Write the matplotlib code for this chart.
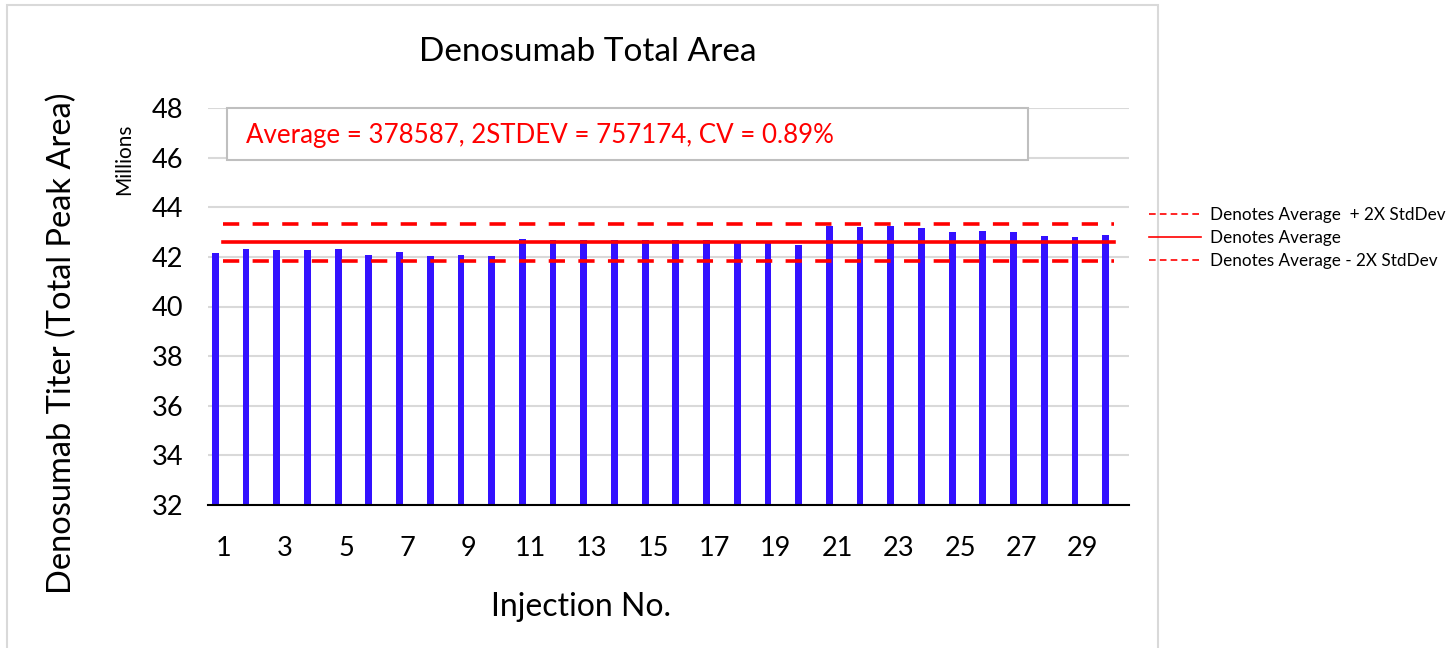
import numpy as np
import matplotlib
matplotlib.use('Agg')
import matplotlib.pyplot as plt
from matplotlib.patches import Rectangle

plt.rcParams['font.family'] = ['Lato', 'DejaVu Sans']

# data (millions)
injections = list(range(1, 31))
peak_area = [42.17, 42.30, 42.26, 42.27, 42.30, 42.06, 42.18, 42.02, 42.07, 42.05,
             42.72, 42.66, 42.66, 42.66, 42.66, 42.66, 42.66, 42.58, 42.65, 42.48,
             43.23, 43.20, 43.23, 43.15, 43.01, 43.05, 43.00, 42.83, 42.80, 42.88]
avg_line = 42.58
upper_line = 43.34
lower_line = 41.83
x_ticks = list(range(1, 30, 2))
y_ticks = list(range(32, 49, 2))
stats_text = 'Average = 378587, 2STDEV = 757174, CV = 0.89%'

W, H = 1446, 648
fig = plt.figure(figsize=(W / 100, H / 100), dpi=100)


def fx(px):
    return px / W


def fy(py):
    return 1 - py / H


# outer chart border
fig.patches.append(Rectangle((fx(7), fy(660)), fx(1158) - fx(7), fy(5) - fy(660),
                             transform=fig.transFigure, fill=False,
                             edgecolor='#d9d9d9', lw=1.5))

ax = fig.add_axes([fx(208), fy(505), fx(1129) - fx(208), fy(108) - fy(505)])

x = np.array(injections)
ax.bar(x - 0.26, peak_area, width=0.22, color='#3311ff', zorder=3)

up, = ax.plot(x, [upper_line] * len(x), color='#ff0000', lw=2.6, ls=(0, (4.5, 3.7)), zorder=4)
av, = ax.plot(x, [avg_line] * len(x), color='#ff0000', lw=2.6, zorder=4)
lo, = ax.plot(x, [lower_line] * len(x), color='#ff0000', lw=2.6, ls=(0, (4.5, 3.7)), zorder=4)

ax.set_xlim(0.5, 30.5)
ax.set_ylim(32, 48)
ax.set_xticks(x_ticks)
ax.set_yticks(y_ticks)
ax.tick_params(axis='both', length=0, labelsize=19.5)
ax.tick_params(axis='x', pad=22)
ax.tick_params(axis='y', pad=18)
ax.grid(axis='y', color='#d9d9d9', lw=1.5, zorder=0)
for s in ['left', 'right', 'top']:
    ax.spines[s].set_visible(False)
ax.spines['bottom'].set_color('#000000')
ax.spines['bottom'].set_linewidth(1.5)
ax.spines['bottom'].set_zorder(5)

fig.text(fx(588), fy(52), 'Denosumab Total Area', ha='center', va='center', fontsize=24)
fig.text(fx(581), fy(607), 'Injection No.', ha='center', va='center', fontsize=23)
fig.text(fx(62), fy(343), 'Denosumab Titer (Total Peak Area)', ha='center', va='center',
         rotation=90, fontsize=23.5)
fig.text(fx(124), fy(159), 'Millions', ha='center', va='center', rotation=90, fontsize=15)

# stats box
fig.patches.append(Rectangle((fx(227), fy(160)), fx(1028) - fx(227), fy(108) - fy(160),
                             transform=fig.transFigure, facecolor='white',
                             edgecolor='#bfbfbf', lw=1.5, zorder=5))
fig.text(fx(246), fy(135), stats_text, ha='left', va='center', color='#ff0000',
         fontsize=18.6, zorder=6)

leg = fig.legend([up, av, lo],
                 ['Denotes Average  + 2X StdDev', 'Denotes Average', 'Denotes Average - 2X StdDev'],
                 loc='center left', bbox_to_anchor=(fx(1134), fy(238)), frameon=False,
                 fontsize=12.3, handlelength=3.0, labelspacing=0.42, handletextpad=0.55)
for h in leg.legend_handles:
    h.set_linewidth(1.2)
leg.legend_handles[0].set_linestyle((0, (4, 2.5)))
leg.legend_handles[2].set_linestyle((0, (4, 2.5)))

fig.savefig('out.png', dpi=100)
